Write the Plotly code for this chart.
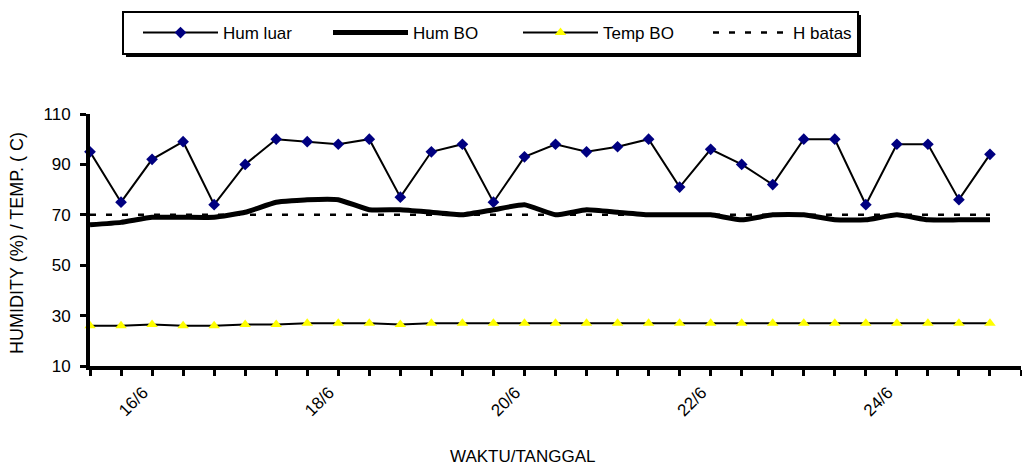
import plotly.graph_objects as go

# ---- data ----
hum_luar = [95, 75, 92, 99, 74, 90, 100, 99, 98, 100, 77, 95, 98, 75, 93,
            98, 95, 97, 100, 81, 96, 90, 82, 100, 100, 74, 98, 98, 76, 94]
hum_bo = [66, 67, 69, 69, 69, 71, 75, 76, 76, 72, 72, 71, 70, 72, 74,
          70, 72, 71, 70, 70, 70, 68, 70, 70, 68, 68, 70, 68, 68, 68]
temp_bo = [26, 26, 26.5, 26, 26, 26.5, 26.5, 27, 27, 27, 26.5, 27, 27, 27, 27,
           27, 27, 27, 27, 27, 27, 27, 27, 27, 27, 27, 27, 27, 27, 27]
h_batas = [70] * 30
day_labels = ["16/6", "18/6", "20/6", "22/6", "24/6"]
day_label_index = [2, 8, 14, 20, 26]
y_ticks = [10, 30, 50, 70, 90, 110]

x = list(range(len(hum_luar)))
n_ticks = len(hum_luar) + 1
tickvals = list(range(n_ticks))
ticktext = [""] * n_ticks
for i, lab in zip(day_label_index, day_labels):
    ticktext[i] = lab

FONT = "Liberation Sans, Arial, sans-serif"

# plot area in pixels (for placing the legend frame in paper coordinates)
L, R, T, B = 90, 1, 114, 105
W, H = 1022, 471
PW, PH = W - L - R, H - T - B


def px_x(p):
    return (p - L) / PW


def px_y(p):
    return 1 - (p - T) / PH


fig = go.Figure()
fig.add_trace(go.Scatter(x=x, y=hum_luar, name="Hum luar", mode="lines+markers",
                         line=dict(color="black", width=2), cliponaxis=False,
                         marker=dict(symbol="diamond", size=9, color="#000080")))
fig.add_trace(go.Scatter(x=x, y=hum_bo, name="Hum BO", mode="lines",
                         line=dict(color="black", width=5, shape="spline",
                                   smoothing=0.4), cliponaxis=False))
fig.add_trace(go.Scatter(x=x, y=temp_bo, name="Temp BO", mode="lines+markers",
                         line=dict(color="black", width=2), cliponaxis=False,
                         marker=dict(symbol="triangle-up", size=10, color="#ffff00")))
fig.add_trace(go.Scatter(x=x, y=h_batas, name="H batas", mode="lines",
                         line=dict(color="black", width=2.5, dash="6px,10px")))

fig.update_layout(
    width=W, height=H,
    margin=dict(l=L, r=R, t=T, b=B),
    plot_bgcolor="white", paper_bgcolor="white",
    font=dict(family=FONT, size=17, color="black"),
    showlegend=True,
    legend=dict(orientation="h", xref="container", yref="container",
                x=138 / W, y=1 - 33 / H, xanchor="left", yanchor="middle",
                bgcolor="rgba(0,0,0,0)", borderwidth=0,
                font=dict(family=FONT, size=17), itemwidth=75,
                entrywidth=100, tracegroupgap=0),
    xaxis=dict(range=[0, 30], tickvals=tickvals, ticktext=ticktext,
               tickangle=-45, ticks="outside", ticklen=6, tickwidth=3,
               tickcolor="black", showline=True, linecolor="black", linewidth=4,
               showgrid=False, zeroline=False, tickfont=dict(size=17),
               ticklabelshift=-9),
    yaxis=dict(range=[10, 110], tickvals=y_ticks, ticks="outside", ticklen=6,
               tickwidth=3, tickcolor="black", showline=True, linecolor="black",
               linewidth=4, showgrid=False, zeroline=False, tickfont=dict(size=17),
               ticklabelstandoff=6),
    annotations=[
        dict(text="HUMIDITY (%) / TEMP. ( C)", xref="paper", yref="paper",
             x=0, y=0.5, xshift=-73, yshift=-3, xanchor="center", yanchor="middle",
             textangle=-90, showarrow=False, font=dict(size=18)),
        dict(text="WAKTU/TANGGAL", xref="paper", yref="paper", x=px_x(522), y=0,
             yshift=-90, xanchor="center", yanchor="middle", showarrow=False,
             font=dict(size=17)),
    ],
    shapes=[
        # legend frame shadow
        dict(type="rect", xref="paper", yref="paper", layer="above",
             x0=px_x(126), x1=px_x(861), y0=px_y(57), y1=px_y(15),
             fillcolor="black", line=dict(width=0)),
        # legend frame
        dict(type="rect", xref="paper", yref="paper", layer="above",
             x0=px_x(123), x1=px_x(858), y0=px_y(54), y1=px_y(12),
             fillcolor="white", line=dict(color="black", width=2)),
    ],
)

fig.write_html("out.html")
